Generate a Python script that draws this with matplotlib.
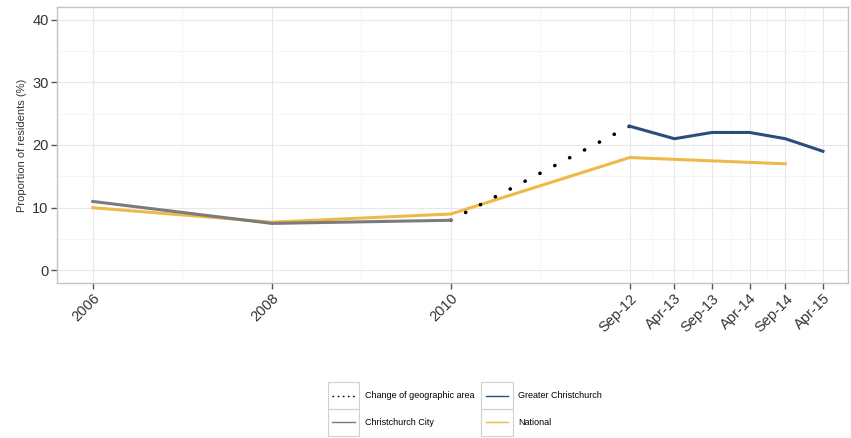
import matplotlib
matplotlib.use('Agg')
import numpy as np
from matplotlib import pyplot as plt
from matplotlib.legend_handler import HandlerBase
from matplotlib.lines import Line2D
from matplotlib.patches import Rectangle
from matplotlib.ticker import MultipleLocator

plt.rcParams['font.family'] = ['Liberation Sans', 'DejaVu Sans']

# survey periods and their place on the (uneven) time index
periods = ['2006', '2008', '2010', 'Sep-12', 'Apr-13', 'Sep-13', 'Apr-14', 'Sep-14', 'Apr-15']
period_index = [0, 1, 2, 3.0, 3.25, 3.46, 3.67, 3.87, 4.08]

city_periods = ['2006', '2008', '2010']
city_values = [11, 7.5, 8]

greater_periods = ['Sep-12', 'Apr-13', 'Sep-13', 'Apr-14', 'Sep-14', 'Apr-15']
greater_values = [23, 21, 22, 22, 21, 19]

national_periods = ['2006', '2008', '2010', 'Sep-12', 'Sep-14']
national_values = [10, 7.7, 9, 18, 17]

change_periods = ['2010', 'Sep-12']
change_values = [8, 23]

pos = dict(zip(periods, period_index))
xs = lambda ps: [pos[p] for p in ps]


class KeyBox(HandlerBase):
    # ggplot-like legend key: grey box with a thin line inside
    def create_artists(self, legend, orig_handle, xdescent, ydescent, width, height, fontsize, trans):
        rect = Rectangle((-xdescent, -ydescent), width, height, fill=False,
                         ec='#d0d0d0', lw=0.8, transform=trans)
        y = -ydescent + height / 2
        ls = '-' if orig_handle.get_linestyle() == '-' else (0, (1.2, 2.5))
        line = Line2D([-xdescent + 0.15 * width, -xdescent + 0.85 * width], [y, y],
                      color=orig_handle.get_color(), lw=1.0, linestyle=ls, transform=trans)
        return [rect, line]


fig = plt.figure(figsize=(8.51, 4.38), dpi=100)
ax = fig.add_axes([57 / 851, 1 - 283 / 438, (848 - 57) / 851, (283 - 7) / 438])

ax.plot(xs(change_periods), change_values, color='black', linestyle=(0, (0.05, 4.6)),
        linewidth=2.6, dash_capstyle='round', label='Change of geographic area', zorder=3)
ax.plot(xs(city_periods), city_values, color='#7b7b7b', linewidth=2.2, label='Christchurch City', zorder=3)
ax.plot(xs(greater_periods), greater_values, color='#2a4d7d', linewidth=2.2, label='Greater Christchurch', zorder=3)
ax.plot(xs(national_periods), national_values, color='#efb949', linewidth=2.2, label='National', zorder=2)

ax.set_xlim(-0.2, 4.22)
ax.set_ylim(-2, 42)
ax.set_xticks(period_index)
ax.set_xticklabels(periods, rotation=45, ha='right', rotation_mode='anchor')
minor_x = [(a + b) / 2 for a, b in zip(period_index[:-1], period_index[1:])]
ax.set_xticks(minor_x, minor=True)
ax.yaxis.set_major_locator(MultipleLocator(10))
ax.yaxis.set_minor_locator(MultipleLocator(5))
ax.tick_params(which='major', length=4, width=1, color='#555555', labelsize=10.5, labelcolor='#333333', pad=2)
ax.tick_params(which='minor', length=0)
ax.grid(which='major', color='#e8e8e8', linewidth=0.8)
ax.grid(which='minor', color='#f4f4f4', linewidth=0.6)
ax.set_axisbelow(True)
for s in ax.spines.values():
    s.set_color('#c4c4c4')
    s.set_linewidth(1)

ax.set_ylabel('Proportion of residents (%)', fontsize=8, color='#333333', labelpad=4)

handles, labels = ax.get_legend_handles_labels()
fig.legend(handles, labels, ncol=2, loc='center', bbox_to_anchor=(465 / 851, 1 - 409 / 438),
           frameon=False, fontsize=6.5, handlelength=3.5, handleheight=4.2, labelspacing=0.0,
           columnspacing=0.8, handletextpad=0.6, borderpad=0.2,
           handler_map={h: KeyBox() for h in handles})

fig.savefig('out.png', dpi=100)
